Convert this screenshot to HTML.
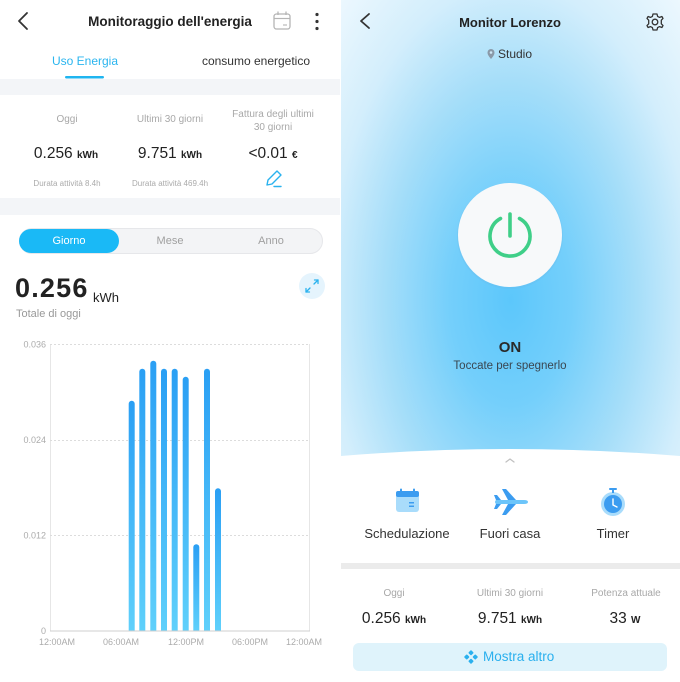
<!DOCTYPE html>
<html><head><meta charset="utf-8"><style>
*{margin:0;padding:0;box-sizing:border-box}
body{width:680px;height:682px;overflow:hidden;background:#fff;font-family:"Liberation Sans",Arial,sans-serif;position:relative}
.a{position:absolute;white-space:nowrap}
.c{transform:translateX(-50%)}
.lbl{font-size:10px;color:#a8a8a8}
.val{font-size:15.5px;color:#222}
.val b{font-size:10px;font-weight:bold}
.dur{font-size:8px;color:#aaa}
</style></head><body>
<!-- LEFT PANEL -->
<div class="a" style="left:0;top:0;width:340px;height:682px;background:#fff"></div>
<svg class="a" style="left:0;top:0" width="340" height="682">
  <polyline points="27,13 19,21 27,29" fill="none" stroke="#333" stroke-width="1.8" stroke-linecap="round" stroke-linejoin="round"/>
  <rect x="274" y="14" width="16" height="15" rx="2.5" fill="none" stroke="#b5b5b5" stroke-width="1.3"/>
  <line x1="274" y1="18.5" x2="290" y2="18.5" stroke="#b5b5b5" stroke-width="1.2"/>
  <line x1="278" y1="11.5" x2="278" y2="15" stroke="#b5b5b5" stroke-width="1.3"/>
  <line x1="286" y1="11.5" x2="286" y2="15" stroke="#b5b5b5" stroke-width="1.3"/>
  <line x1="283" y1="25" x2="287" y2="25" stroke="#b5b5b5" stroke-width="1.1"/>
  <circle cx="317" cy="14.5" r="1.6" fill="#333"/><circle cx="317" cy="21.5" r="1.6" fill="#333"/><circle cx="317" cy="28.5" r="1.6" fill="#333"/>
  <rect x="65" y="76" width="39" height="2.5" rx="1.2" fill="#1fb5f0"/>
  <rect x="0" y="79" width="340" height="16" fill="#f3f5f8"/>
  <rect x="0" y="198" width="340" height="17" fill="#f3f5f8"/>
  <!-- pencil -->
  <g fill="none" stroke="#2ab2ee" stroke-width="1.4" stroke-linejoin="round" stroke-linecap="round">
    <path d="M267,185 L268,180 L277,171 L281,175 L272,184 Z"/>
    <line x1="274" y1="186.5" x2="281" y2="186.5"/>
  </g>
  <!-- segmented -->
  <rect x="19.5" y="228.5" width="303" height="25" rx="12.5" fill="#f3f4f6" stroke="#e6e7ea"/>
  <rect x="19" y="229" width="100" height="24" rx="12" fill="#1ab9f6"/>
  <!-- expand -->
  <circle cx="312" cy="286" r="13" fill="#e5f4fd"/>
  <g fill="none" stroke="#2ab2ee" stroke-width="1.3" stroke-linecap="round" stroke-linejoin="round">
    <line x1="314" y1="284" x2="318" y2="280"/><polyline points="314.5,280 318,280 318,283.5"/>
    <line x1="310" y1="288" x2="306" y2="292"/><polyline points="306,288.5 306,292 309.5,292"/>
  </g>
  <!-- chart -->
  <defs><linearGradient id="bg" x1="0" y1="0" x2="0" y2="1"><stop offset="0" stop-color="#2a9ff4"/><stop offset="1" stop-color="#5fd0fb"/></linearGradient></defs>
  <line x1="50.5" y1="344" x2="50.5" y2="631" stroke="#e6e6e6"/>
  <line x1="309.5" y1="344" x2="309.5" y2="631" stroke="#e6e6e6"/>
  <line x1="50" y1="344.5" x2="310" y2="344.5" stroke="#dcdcdc" stroke-dasharray="2,2"/>
  <line x1="50" y1="440.5" x2="310" y2="440.5" stroke="#dcdcdc" stroke-dasharray="2,2"/>
  <line x1="50" y1="535.5" x2="310" y2="535.5" stroke="#dcdcdc" stroke-dasharray="2,2"/>
  <g fill="url(#bg)">
    <path d="M128.7,631 V403.7 a3,3 0 0 1 6,0 V631Z"/>
    <path d="M139.3,631 V371.7 a3,3 0 0 1 6,0 V631Z"/>
    <path d="M150.3,631 V363.7 a3,3 0 0 1 6,0 V631Z"/>
    <path d="M161,631 V371.7 a3,3 0 0 1 6,0 V631Z"/>
    <path d="M171.7,631 V371.7 a3,3 0 0 1 6,0 V631Z"/>
    <path d="M182.7,631 V379.7 a3,3 0 0 1 6,0 V631Z"/>
    <path d="M193.3,631 V547.3 a3,3 0 0 1 6,0 V631Z"/>
    <path d="M204,631 V371.7 a3,3 0 0 1 6,0 V631Z"/>
    <path d="M215,631 V491.3 a3,3 0 0 1 6,0 V631Z"/>
  </g>
  <line x1="50" y1="631" x2="310" y2="631" stroke="#cfcfcf"/>
  <g font-family="Liberation Sans,Arial,sans-serif" font-size="9" fill="#ababab" text-anchor="end">
    <text x="46" y="347.5">0.036</text><text x="46" y="443">0.024</text><text x="46" y="538.5">0.012</text><text x="46" y="634">0</text>
  </g>
  <g font-family="Liberation Sans,Arial,sans-serif" font-size="9" fill="#ababab" text-anchor="middle">
    <text x="57" y="645">12:00AM</text><text x="121" y="645">06:00AM</text><text x="186" y="645">12:00PM</text><text x="250" y="645">06:00PM</text><text x="304" y="645">12:00AM</text>
  </g>
</svg>
<div class="a c" style="left:170px;top:14px;font-size:13.5px;font-weight:bold;color:#222">Monitoraggio dell'energia</div>
<div class="a c" style="left:85px;top:54px;font-size:12px;color:#2ab5ef">Uso Energia</div>
<div class="a c" style="left:256px;top:54px;font-size:12px;color:#333">consumo energetico</div>

<div class="a c lbl" style="left:67px;top:114px">Oggi</div>
<div class="a c lbl" style="left:170px;top:114px">Ultimi 30 giorni</div>
<div class="a c lbl" style="left:273px;top:108px;text-align:center;line-height:13px">Fattura degli ultimi<br>30 giorni</div>
<div class="a c val" style="left:66px;top:145px">0.256 <b>kWh</b></div>
<div class="a c val" style="left:170px;top:145px">9.751 <b>kWh</b></div>
<div class="a c val" style="left:273px;top:145px">&lt;0.01 <b>€</b></div>
<div class="a c dur" style="left:67px;top:179px">Durata attività 8.4h</div>
<div class="a c dur" style="left:170px;top:179px">Durata attività 469.4h</div>

<div class="a c" style="left:69px;top:235px;font-size:11px;color:#fff">Giorno</div>
<div class="a c" style="left:170px;top:235px;font-size:11px;color:#a0a0a0">Mese</div>
<div class="a c" style="left:271px;top:235px;font-size:11px;color:#a0a0a0">Anno</div>

<div class="a" style="left:15px;top:273px;font-size:27px;font-weight:bold;color:#222;letter-spacing:1.2px">0.256</div>
<div class="a" style="left:93px;top:290px;font-size:13px;color:#222">kWh</div>
<div class="a" style="left:16px;top:308px;font-size:11px;color:#999">Totale di oggi</div>

<!-- RIGHT PANEL -->
<div class="a" style="left:341px;top:0;width:339px;height:682px;background:radial-gradient(ellipse 72% 62% at 50% 44%, #5cc7fb 0%, #74cffb 25%, #a6def9 52%, #d3eefc 75%, #edf8fe 100%)"></div>
<svg class="a" style="left:341px;top:0" width="339" height="682">
  <path d="M0,456 Q169,442 339,456 L339,682 L0,682 Z" fill="#fff"/>
  <rect x="0" y="563" width="339" height="6" fill="#ebebeb"/>
  <rect x="12" y="643" width="314" height="28" rx="6" fill="#dff3fb"/>
  <polyline points="28,14 20,21 28,28" fill="none" stroke="#333" stroke-width="1.8" stroke-linecap="round" stroke-linejoin="round"/>
  <!-- gear -->
  <g transform="translate(314,22)" fill="none" stroke="#333" stroke-width="1.3">
    <path d="M-2,-8 L2,-8 L2.6,-5.6 L4.6,-4.6 L6.9,-5.5 L8,-3.6 L6.3,-1.8 L6.3,1.8 L8,3.6 L6.9,5.5 L4.6,4.6 L2.6,5.6 L2,8 L-2,8 L-2.6,5.6 L-4.6,4.6 L-6.9,5.5 L-8,3.6 L-6.3,1.8 L-6.3,-1.8 L-8,-3.6 L-6.9,-5.5 L-4.6,-4.6 L-2.6,-5.6 Z" stroke-linejoin="round"/>
    <circle r="2.8"/>
  </g>
  <!-- pin -->
  <path d="M150,59 C147,55.5 146.5,54 146.5,52.5 a3.5,3.5 0 0 1 7,0 C153.5,54 153,55.5 150,59Z" fill="#8a99a8"/>
  <circle cx="150" cy="52.5" r="1.3" fill="#cfe9f8"/>
  <!-- power -->
  <circle cx="169" cy="236" r="53" fill="#6ab8e6" opacity="0.25"/>
  <circle cx="169" cy="235" r="52" fill="#f7f9fa"/>
  <g fill="none" stroke="#3fcf88" stroke-width="3.6" stroke-linecap="round">
    <path d="M159.5,218.5 A20,20 0 1 0 178.5,218.5"/>
    <line x1="169" y1="214" x2="169" y2="236"/>
  </g>
  <polyline points="165,462 169,459 173,462" fill="none" stroke="#c0c0c0" stroke-width="1.3" stroke-linecap="round"/>
  <!-- calendar icon -->
  <rect x="55" y="491" width="23" height="21" rx="3" fill="#a9dcfb"/>
  <rect x="55" y="491" width="23" height="6" rx="2" fill="#3b9cf0"/>
  <rect x="59" y="488.5" width="2" height="5" rx="1" fill="#3b9cf0"/><rect x="72" y="488.5" width="2" height="5" rx="1" fill="#3b9cf0"/>
  <rect x="68" y="502" width="5" height="1.5" fill="#3b9cf0"/><rect x="68" y="505.5" width="5" height="1.5" fill="#3b9cf0"/>
  <!-- plane -->
  <g transform="translate(169,502)">
    <path d="M-14,-2 L14,-2 Q18,-2 18,0 Q18,2 14,2 L-14,2 Q-16,0 -14,-2Z" fill="#6cc5fa"/>
    <path d="M-2,-2 L-8,-13 L-4,-13 L6,-2Z" fill="#3b9cf0"/>
    <path d="M-2,2 L-8,13 L-4,13 L6,2Z" fill="#3b9cf0"/>
    <path d="M-14,-2 L-16,-7 L-13,-7 L-9,-2Z" fill="#3b9cf0"/>
    <path d="M-14,2 L-16,7 L-13,7 L-9,2Z" fill="#3b9cf0"/>
  </g>
  <!-- timer -->
  <circle cx="272" cy="504" r="12" fill="#a9dcfb"/>
  <circle cx="272" cy="504" r="9" fill="#3b9cf0"/>
  <rect x="268" y="488" width="8" height="2" rx="1" fill="#3b9cf0"/>
  <rect x="271" y="489" width="2" height="4" fill="#3b9cf0"/>
  <polyline points="272,499 272,505 276,507" fill="none" stroke="#fff" stroke-width="1.4" stroke-linecap="round"/>
  <!-- mostra icon -->
  <g fill="#2ab0ee" transform="translate(130,657) rotate(45)">
    <rect x="-5" y="-5" width="4" height="4" rx="0.8"/><rect x="1" y="-5" width="4" height="4" rx="0.8"/>
    <rect x="-5" y="1" width="4" height="4" rx="0.8"/><rect x="1" y="1" width="4" height="4" rx="0.8"/>
  </g>
</svg>
<div class="a c" style="left:510px;top:15px;font-size:13px;font-weight:bold;color:#222">Monitor Lorenzo</div>
<div class="a" style="left:498px;top:47px;font-size:12px;color:#333">Studio</div>
<div class="a c" style="left:510px;top:339px;font-size:15px;font-weight:bold;color:#2a2a2a">ON</div>
<div class="a c" style="left:510px;top:360px;font-size:11.5px;color:#3a4650">Toccate per spegnerlo</div>
<div class="a c" style="left:407px;top:526px;font-size:13px;color:#333">Schedulazione</div>
<div class="a c" style="left:510px;top:526px;font-size:13px;color:#333">Fuori casa</div>
<div class="a c" style="left:613px;top:526px;font-size:13px;color:#333">Timer</div>
<div class="a c lbl" style="left:394px;top:588px">Oggi</div>
<div class="a c lbl" style="left:510px;top:588px">Ultimi 30 giorni</div>
<div class="a c lbl" style="left:626px;top:588px">Potenza attuale</div>
<div class="a c val" style="left:394px;top:610px">0.256 <b>kWh</b></div>
<div class="a c val" style="left:510px;top:610px">9.751 <b>kWh</b></div>
<div class="a c val" style="left:625px;top:610px">33 <b>W</b></div>
<div class="a" style="left:483px;top:649px;font-size:13.5px;color:#2ab0ee">Mostra altro</div>
</body></html>
